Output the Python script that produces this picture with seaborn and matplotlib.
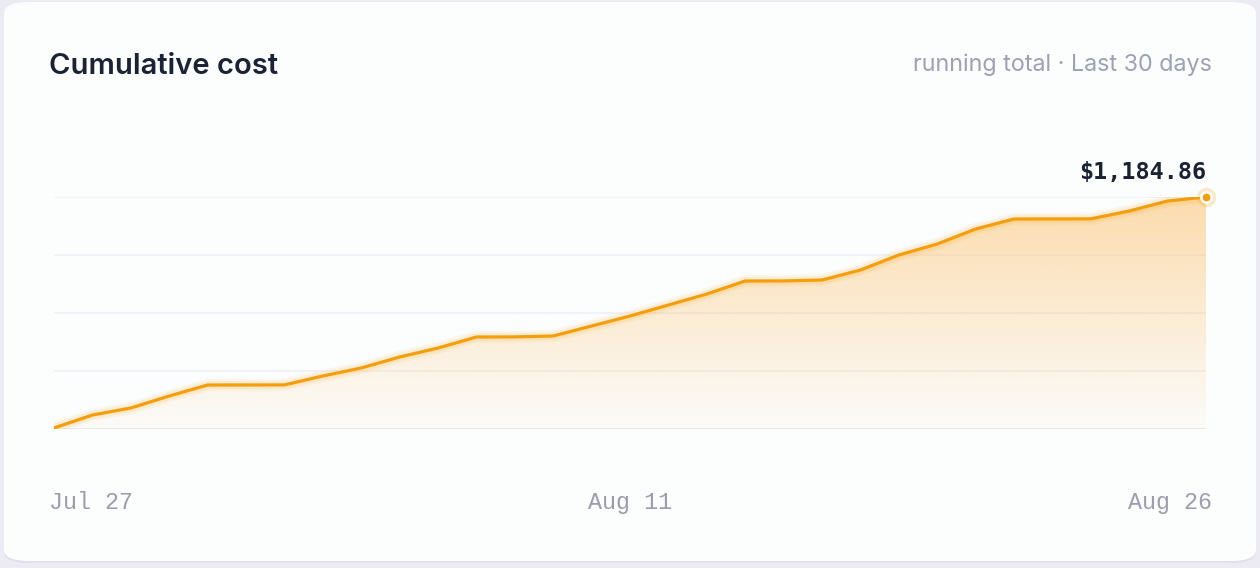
import numpy as np
import pandas as pd
import matplotlib
matplotlib.use("Agg")
import matplotlib.pyplot as plt
import matplotlib.transforms as mtransforms
from matplotlib.patches import FancyBboxPatch
import seaborn as sns

# Data: cumulative cost, one point per day (Jul 27 - Aug 26)
dates = pd.date_range("2024-07-27", "2024-08-26", freq="D")
cumulative_cost = [
    38.5, 103.0, 137.8, 197.3, 251.9, 252.1, 252.4, 296.6, 336.3, 390.8,
    435.5, 490.1, 490.6, 495.1, 544.7, 594.3, 648.9, 703.5, 768.0, 768.4,
    773.0, 822.6, 897.0, 951.6, 1026.1, 1075.7, 1076.0, 1076.4, 1115.4,
    1165.0, 1184.86,
]
tick_idx = [0, 15, 30]
tick_labels = ["Jul 27", "Aug 11", "Aug 26"]
title = "Cumulative cost"
subtitle = "running total \u00b7 Last 30 days"

df = pd.DataFrame({"day": np.arange(len(dates)), "cost": cumulative_cost})

sns.set_theme(style="white")
plt.rcParams["font.family"] = ["Inter", "DejaVu Sans"]

W, H = 1260, 568
fig = plt.figure(figsize=(W / 100, H / 100), dpi=100)
fig.patch.set_facecolor("#ecebf4")

# card background (drawn behind the axes)
shadow = FancyBboxPatch((4 / W, 5 / H), 1252 / W, 561 / H,
                        boxstyle="round,pad=0,rounding_size=0.02",
                        transform=fig.transFigure, facecolor="#e0dfeb",
                        edgecolor="none", zorder=-10)
card = FancyBboxPatch((4 / W, 7 / H), 1252 / W, 559 / H,
                      boxstyle="round,pad=0,rounding_size=0.02",
                      transform=fig.transFigure, facecolor="#fcfdfd",
                      edgecolor="none", zorder=-9)
fig.patches.extend([shadow, card])

ax = fig.add_axes([54 / W, (H - 429) / H, 1152 / W, 232 / H])
ax.set_zorder(1)
ax.patch.set_alpha(0)

vmin, vmax = min(cumulative_cost), max(cumulative_cost)
step = (vmax - vmin) / 231
ylo = vmin - step
ax.set_xlim(0, len(dates) - 1)
ax.set_ylim(ylo, vmax)

# gridlines
for g in np.linspace(ylo, vmax, 5):
    ax.axhline(g, color="#e4e6ef" if g == ylo else "#eeeff4", lw=1.1, zorder=1)

line_color = "#f59e0b"

# gradient fill under the line
poly = ax.fill_between(df["day"], df["cost"], ylo, color="none", lw=0)
grad = np.zeros((256, 1, 4))
grad[:, 0, :3] = matplotlib.colors.to_rgb("#fbb34a")
grad[:, 0, 3] = np.linspace(0.45, 0.02, 256)
im = ax.imshow(grad, extent=(0, len(dates) - 1, ylo, vmax), aspect="auto",
               origin="upper", zorder=2)
im.set_clip_path(poly.get_paths()[0], transform=ax.transData)

# glow + line
for lw, a in [(9, 0.06), (6, 0.1)]:
    ax.plot(df["day"], df["cost"], color=line_color, lw=lw, alpha=a,
            solid_capstyle="round", zorder=3)
sns.lineplot(data=df, x="day", y="cost", color=line_color, lw=2.3, ax=ax,
             zorder=4)

# end point
last_x, last_y = df["day"].iloc[-1], df["cost"].iloc[-1]
ax.scatter([last_x], [last_y], s=190, color=line_color, alpha=0.22, lw=0,
           zorder=5, clip_on=False)
ax.scatter([last_x], [last_y], s=55, color=line_color, edgecolor="white",
           linewidth=1.8, zorder=6, clip_on=False)
ax.annotate(f"${last_y:,.2f}", (last_x, last_y), xytext=(0, 18),
            textcoords="offset points", ha="right", va="center",
            fontsize=16.8, fontweight="bold", family="DejaVu Sans Mono",
            color="#1c2233")

# x labels
ax.set_xlabel("")
ax.set_ylabel("")
ax.set_xticks([])
ax.set_yticks([])
for s in ax.spines.values():
    s.set_visible(False)
trans = mtransforms.blended_transform_factory(ax.transData, ax.transAxes)
aligns = ["left", "center", "right"]
offsets = [-5, 0, 6]
for i, lab, ha, dx in zip(tick_idx, tick_labels, aligns, offsets):
    t = trans + mtransforms.ScaledTranslation(dx / 100, 0, fig.dpi_scale_trans)
    ax.text(i, -0.315, lab, transform=t, ha=ha, va="center",
            fontsize=16.8, family="Liberation Mono", color="#9a9caf")

# title and subtitle
fig.text(49 / W, 1 - 66 / H, title, ha="left", va="center", fontsize=21,
         fontweight="semibold", color="#1b2236")
fig.text(1212 / W, 1 - 65 / H, subtitle, ha="right", va="center",
         fontsize=16.8, color="#9ea1b5")

fig.savefig("out.png", dpi=100, facecolor=fig.get_facecolor())
